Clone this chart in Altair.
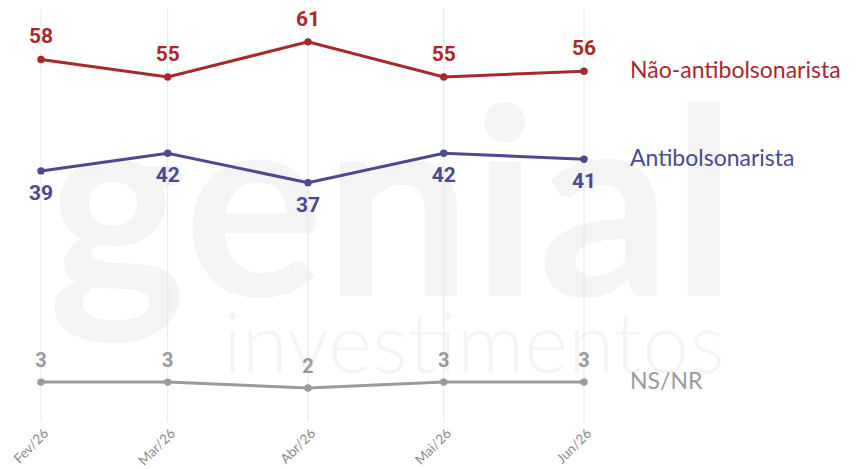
import altair as alt
import pandas as pd

# ---- data ----
dates = ["2026-02-01", "2026-03-01", "2026-04-01", "2026-05-01", "2026-06-01"]
month_labels = ["Fev/26", "Mar/26", "Abr/26", "Mai/26", "Jun/26"]
series_names = ["Não-antibolsonarista", "Antibolsonarista", "NS/NR"]
nao_anti = [58, 55, 61, 55, 56]
anti = [39, 42, 37, 42, 41]
nsnr = [3, 3, 2, 3, 3]
colors = ["#a8292d", "#4d4990", "#9a9a9a"]

rows = []
for name, vals in zip(series_names, [nao_anti, anti, nsnr]):
    for i, (d, v) in enumerate(zip(dates, vals)):
        rows.append({"serie": name, "data": d, "valor": v, "ultimo": i == len(dates) - 1})
df = pd.DataFrame(rows)
dates_df = pd.DataFrame({"data": dates})

tick_values = [int(pd.Timestamp(d, tz="UTC").value // 10**6) for d in dates]
label_expr = "[" + ",".join(f"'{l}'" for l in month_labels) + "][utcmonth(datum.value)-1]"

W, H = 609, 413

x = alt.X(
    "data:T",
    scale=alt.Scale(type="utc", padding=33, nice=False),
    axis=alt.Axis(
        values=tick_values,
        labelExpr=label_expr,
        grid=False,
        domain=False,
        ticks=False,
        labelAngle=-45,
        labelFontSize=13.5,
        labelColor="#8a8a8a",
        labelFont="Lato",
        labelPadding=4,
        title=None,
    ),
)
y = alt.Y("valor:Q", scale=alt.Scale(domain=[-3.8, 66.6], nice=False, zero=False), axis=None)
color = alt.Color("serie:N", scale=alt.Scale(domain=series_names, range=colors), legend=None)

base = alt.Chart(df)

wm1 = alt.Chart(dates_df.head(1)).mark_text(
    text="genial", font="Lato", fontSize=262, fontWeight="bold", color="#f4f4f4",
    align="left", baseline="alphabetic",
).encode(x=alt.value(40), y=alt.value(287))
wm2 = alt.Chart(dates_df.head(1)).mark_text(
    text="investimentos", font="Lato", fontSize=84, fontWeight=300, color="#f4f4f4",
    align="left", baseline="alphabetic",
).encode(x=alt.value(215), y=alt.value(364))

grid = alt.Chart(dates_df).mark_rule(color="#e6e6e6", strokeWidth=1).encode(x=x)

lines = base.mark_line(strokeWidth=3).encode(x=x, y=y, color=color)
points = base.mark_circle(size=55, opacity=1).encode(x=x, y=y, color=color)

def value_labels(name, dy, size):
    return base.transform_filter(alt.datum.serie == name).mark_text(
        dy=dy, font="Roboto", fontWeight="bold", fontSize=size
    ).encode(x=x, y=y, color=color, text="valor:Q")

lab_red = value_labels(series_names[0], -22, 21)
lab_blue = value_labels(series_names[1], 23, 21)
lab_gray = value_labels(series_names[2], -21, 20)

names = base.transform_filter(alt.datum.ultimo).mark_text(
    align="left", baseline="middle", dx=46, font="Lato", fontSize=23
).encode(x=x, y=y, color=color, text="serie:N")

chart = alt.layer(
    wm1, wm2, grid, lines, points, lab_red, lab_blue, lab_gray, names
).properties(
    width=W, height=H, padding={"left": 0, "top": 0, "right": 0, "bottom": 0},
    background="white",
).configure_view(stroke=None)

chart.save("out.html", embed_options={"renderer": "svg", "actions": False})
